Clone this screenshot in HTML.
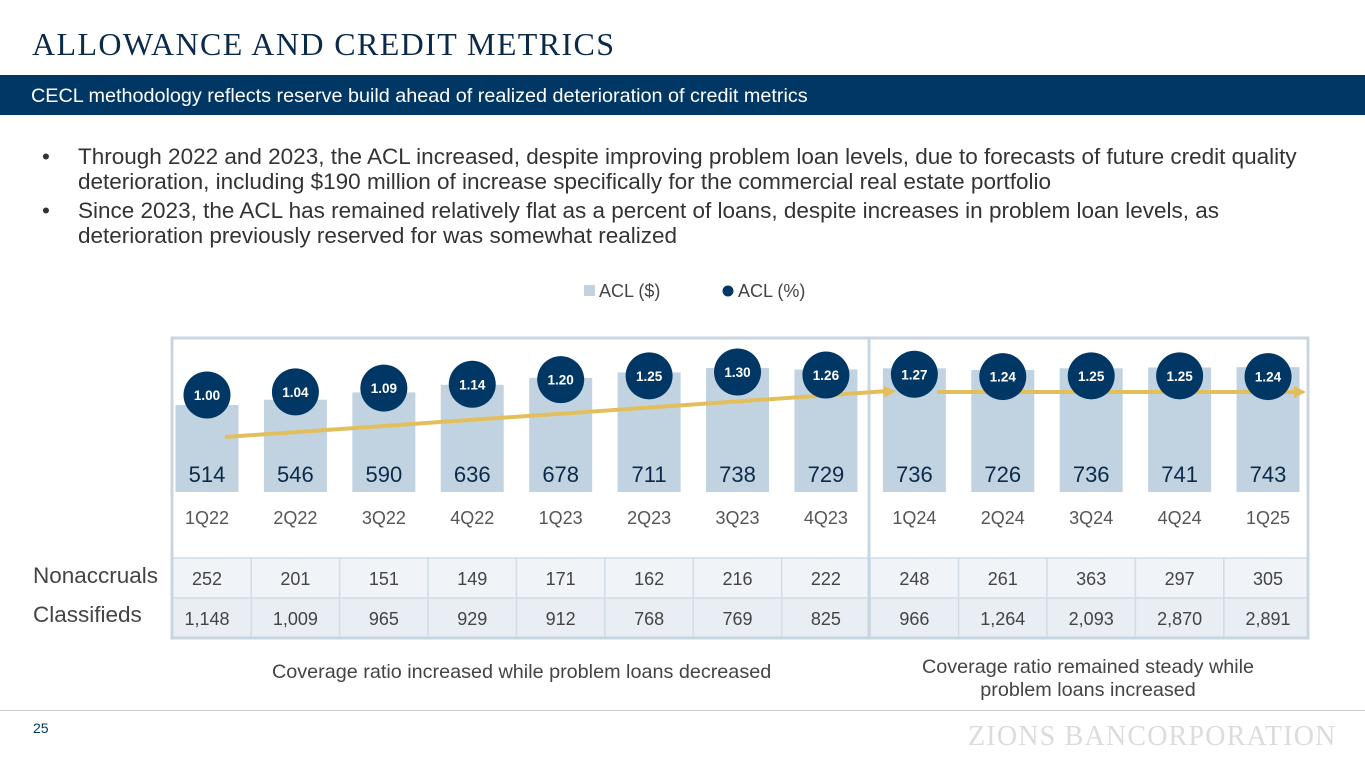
<!DOCTYPE html>
<html><head><meta charset="utf-8"><style>
body{margin:0;width:1365px;height:768px;background:#fff;position:relative;overflow:hidden;font-family:"Liberation Sans",sans-serif}
.abs{position:absolute}
</style></head><body>
<div class="abs" style="left:32px;top:26px;font-family:'Liberation Serif',serif;font-size:32px;color:#0b2a4a;letter-spacing:1.4px">ALLOWANCE AND CREDIT METRICS</div>
<div class="abs" style="left:0;top:75px;width:1365px;height:40px;background:#003764;color:#fff;font-size:19.8px;line-height:42px;padding-left:31px;box-sizing:border-box">CECL methodology reflects reserve build ahead of realized deterioration of credit metrics</div>
<div class="abs" style="left:30px;top:144px;width:1290px;font-size:22.5px;color:#333;line-height:25px">
<div style="position:relative;padding-left:48px;margin-bottom:4px"><span style="position:absolute;left:12px">•</span>Through 2022 and 2023, the ACL increased, despite improving problem loan levels, due to forecasts of future credit quality deterioration, including $190 million of increase specifically for the commercial real estate portfolio</div>
<div style="position:relative;padding-left:48px"><span style="position:absolute;left:12px">•</span>Since 2023, the ACL has remained relatively flat as a percent of loans, despite increases in problem loan levels, as deterioration previously reserved for was somewhat realized</div>
</div>
<svg class="abs" style="left:0;top:0" width="1365" height="768" id="chart"></svg>
<div class="abs" style="left:272px;top:661px;font-size:19.8px;color:#444">Coverage ratio increased while problem loans decreased</div>
<div class="abs" style="left:912px;top:656px;width:352px;text-align:center;font-size:19.8px;color:#444;line-height:23px">Coverage ratio remained steady while problem loans increased</div>
<div class="abs" style="left:0;top:710px;width:1365px;height:1px;background:#ccc"></div>
<div class="abs" style="left:33px;top:720px;font-size:14px;color:#003764">25</div>
<div class="abs" style="left:968px;top:721px;font-family:'Liberation Serif',serif;font-size:28px;color:#dcdcdc;letter-spacing:1.2px">ZIONS BANCORPORATION</div>
<script>
const quarters=["1Q22","2Q22","3Q22","4Q22","1Q23","2Q23","3Q23","4Q23","1Q24","2Q24","3Q24","4Q24","1Q25"];
const aclDollars=[514,546,590,636,678,711,738,729,736,726,736,741,743];
const aclPct=[1.00,1.04,1.09,1.14,1.20,1.25,1.30,1.26,1.27,1.24,1.25,1.25,1.24];
const nonaccruals=["252","201","151","149","171","162","216","222","248","261","363","297","305"];
const classifieds=["1,148","1,009","965","929","912","768","769","825","966","1,264","2,093","2,870","2,891"];
const svg=document.getElementById('chart');const NS='http://www.w3.org/2000/svg';
function el(t,a,txt){const e=document.createElementNS(NS,t);for(const k in a)e.setAttribute(k,a[k]);if(txt!=null)e.textContent=txt;svg.appendChild(e);return e;}
const x0=207,step=88.42,base=492;
const xs=i=>x0+i*step;
const yBar=v=>base-(v+12)*0.1654;
const yPct=v=>395-(v-1)*76.7;
let e=el('rect',{x:584,y:285,width:11,height:11,fill:'#c1d3e1'});


e=el('text',{x:599,y:297,'font-size':18,fill:'#444'},'ACL ($)');


e=el('circle',{cx:728,cy:291,r:5.5,fill:'#003764'});


e=el('text',{x:738,y:297,'font-size':18,fill:'#444'},'ACL (%)');


quarters.forEach((q,i)=>{
 const cx=xs(i);
 const l=Math.max(172,cx-step/2),r2=Math.min(1308,cx+step/2);
 let r=el('rect',{x:l,y:558,width:r2-l,height:40,fill:'#f0f4f8',stroke:'#d2dde7','stroke-width':1.5});
 
 
 r=el('rect',{x:l,y:598,width:r2-l,height:40,fill:'#e8eef4',stroke:'#d2dde7','stroke-width':1.5});
 
 
 let t=el('text',{x:cx,y:585,'text-anchor':'middle','font-size':18,fill:'#444'},nonaccruals[i]);
 
 
 t=el('text',{x:cx,y:625,'text-anchor':'middle','font-size':18,fill:'#444'},classifieds[i]);
 
 
});
e=el('rect',{x:172,y:338,width:1136,height:300,fill:'none',stroke:'#c8d6e2','stroke-width':3});


e=el('line',{x1:869,y1:338,x2:869,y2:638,stroke:'#c8d6e2','stroke-width':3});


e=el('text',{x:33,y:583,'font-size':22.5,fill:'#444'},'Nonaccruals');


e=el('text',{x:33,y:622,'font-size':22.5,fill:'#444'},'Classifieds');


quarters.forEach((q,i)=>{
 const cx=xs(i),y=yBar(aclDollars[i]);
 let b=el('rect',{x:cx-31.5,y:y,width:63,height:base-y,fill:'#c1d3e1'});
 
 
 let t=el('text',{x:cx,y:482,'text-anchor':'middle','font-size':22,fill:'#0b2a4a'},aclDollars[i]);
 
 
 t=el('text',{x:cx,y:524,'text-anchor':'middle','font-size':18,fill:'#555'},q);
 
 
});
function arrow(x1,y1,x2,y2,name){
 let l=el('line',{x1:x1,y1:y1,x2:x2-8,y2:y2,stroke:'#e3bf5c','stroke-width':4});
 
 
 const a=Math.atan2(y2-y1,x2-x1),L=12,W=6;
 const p=[[x2,y2],[x2-L*Math.cos(a)+W*Math.sin(a),y2-L*Math.sin(a)-W*Math.cos(a)],[x2-L*Math.cos(a)-W*Math.sin(a),y2-L*Math.sin(a)+W*Math.cos(a)]];
 let h=el('polygon',{points:p.map(q=>q.join(',')).join(' '),fill:'#e3bf5c'});
 
 
}
arrow(225,437,896,391,'trend-arrow-rising');
arrow(937,392,1306,392,'trend-arrow-flat');
quarters.forEach((q,i)=>{
 const cx=xs(i),cy=yPct(aclPct[i]);
 let c=el('circle',{cx:cx,cy:cy,r:23.5,fill:'#003764'});
 
 
 let t=el('text',{x:cx,y:cy+5,'text-anchor':'middle','font-size':13.5,'font-weight':'bold',fill:'#fff'},aclPct[i].toFixed(2));
 
 
});
</script>
</body></html>
